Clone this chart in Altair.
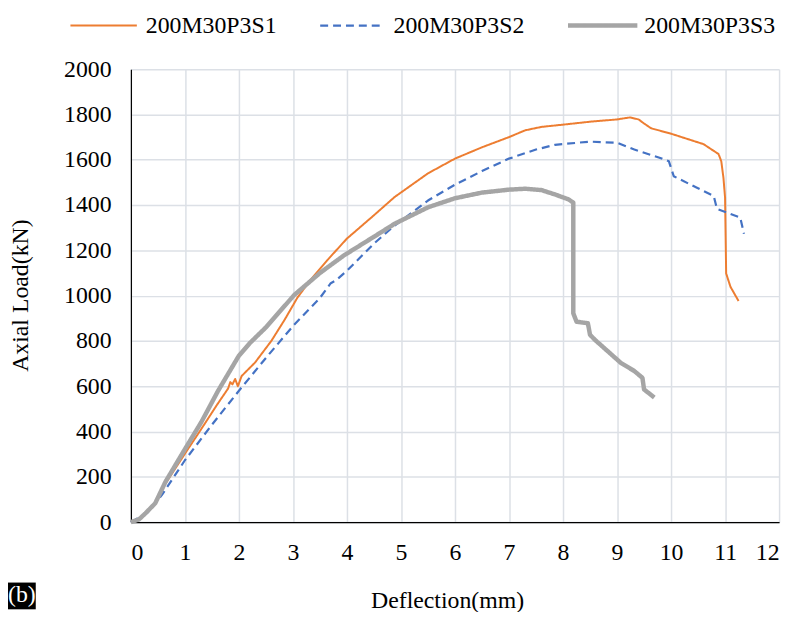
import altair as alt
import pandas as pd

series_names = ["200M30P3S1", "200M30P3S2", "200M30P3S3"]
series_colors = ["#ED7D31", "#4472C4", "#A5A5A5"]

s1_x = [0, 0.15, 0.27, 0.45, 0.64, 1.0, 1.3, 1.6, 1.8, 1.84, 1.88, 1.93, 1.98, 2.05, 2.3, 2.6, 2.85, 3.08,
        3.32, 3.63, 4.0, 4.5, 4.88, 5.5, 6.0, 6.5, 7.0, 7.3, 7.6, 8.0, 8.5, 9.0, 9.24, 9.4, 9.5, 9.63, 10.0,
        10.6, 10.88, 10.93, 10.97, 11.0, 11.02, 11.1, 11.25]
s1_y = [0, 12, 38, 80, 170, 302, 410, 520, 590, 618, 608, 632, 600, 645, 705, 800, 895, 990,
        1068, 1155, 1252, 1355, 1435, 1540, 1605, 1655, 1700, 1730, 1745, 1755, 1768, 1778, 1787, 1778, 1760, 1739, 1715,
        1669, 1625, 1593, 1520, 1432, 1098, 1039, 976]

s2_x = [0, 0.3, 0.575, 1.0, 1.5, 2.0, 2.5, 3.02, 3.5, 3.7, 3.8, 4.0, 4.5, 4.88, 5.5, 6.0, 6.5, 7.0, 7.5,
        7.85, 8.5, 9.0, 9.32, 9.8, 9.96, 10.05, 10.48, 10.79, 10.85, 11.28, 11.35]
s2_y = [0, 40, 120, 273, 430, 580, 725, 871, 990, 1055, 1068, 1110, 1230, 1309, 1420, 1490, 1550, 1605, 1645,
        1666, 1680, 1675, 1645, 1608, 1593, 1527, 1476, 1440, 1383, 1345, 1273]

s3_x = [0, 0.15, 0.27, 0.45, 0.64, 1.0, 1.3, 1.61, 2.0, 2.2, 2.5, 3.02, 3.5, 3.94, 4.5, 4.88, 5.5, 6.0, 6.5,
        7.0, 7.3, 7.6, 7.85, 8.1, 8.19, 8.19, 8.25, 8.46, 8.5, 8.59, 9.07, 9.32, 9.47, 9.5, 9.69]
s3_y = [0, 12, 39, 83, 178, 322, 440, 578, 735, 790, 860, 1002, 1100, 1177, 1260, 1317, 1390, 1430, 1455,
        1468, 1472, 1466, 1447, 1425, 1411, 922, 885, 878, 827, 805, 703, 667, 637, 586, 550]

x_ticks = list(range(0, 13))
y_ticks = list(range(0, 2001, 200))
panel_label = "(b)"

FONT = "Liberation Serif"

series_data = [(s1_x, s1_y), (s2_x, s2_y), (s3_x, s3_y)]
line_widths = [2, 2.2, 4.5]
line_dashes = [[1, 0], [8, 5], [1, 0]]

x_enc = alt.X("x:Q", scale=alt.Scale(domain=[0, 12], nice=False, zero=False),
              axis=alt.Axis(values=x_ticks, title="Deflection(mm)", titleX=319, titleY=79,
                            titleBaseline="middle", titleAlign="center", labelPadding=19, format="d",
                            labelFont=FONT, labelFontSize=24, titleFont=FONT, titleFontSize=24))
y_enc = alt.Y("y:Q", scale=alt.Scale(domain=[0, 2000], nice=False),
              axis=alt.Axis(values=y_ticks, title="Axial Load(kN)", titleX=-111, titleY=228, titleAngle=270,
                            titleBaseline="middle", titleAlign="center", labelPadding=20, format="d",
                            labelFont=FONT, labelFontSize=24, titleFont=FONT, titleFontSize=24))

layers = []
for name, (xs, ys), col, sw, dash in zip(series_names, series_data, series_colors, line_widths, line_dashes):
    d = pd.DataFrame({"x": xs, "y": ys, "idx": list(range(len(xs))), "series": name})
    layers.append(
        alt.Chart(d).mark_line(color=col, strokeWidth=sw, strokeDash=dash, strokeJoin="round",
                               strokeCap="butt").encode(x=x_enc, y=y_enc, order="idx:Q")
    )

# legend (drawn in pixel space above the plot)
legend_line_x = [(-61, 6), (191, 251), (441, 511)]
legend_text_x = [15, 265, 518]
legend_y = -44
for name, col, sw, dash, (lx1, lx2), tx in zip(series_names, series_colors, line_widths, line_dashes,
                                               legend_line_x, legend_text_x):
    one = pd.DataFrame({"t": [name]})
    layers.append(
        alt.Chart(one).mark_rule(color=col, strokeWidth=sw, strokeDash=dash, strokeCap="butt").encode(
            x=alt.value(lx1), x2=alt.value(lx2), y=alt.value(legend_y))
    )
    layers.append(
        alt.Chart(one).mark_text(font=FONT, fontSize=24, color="black", align="left", baseline="middle").encode(
            x=alt.value(tx), y=alt.value(legend_y + 1), text="t:N")
    )

box = alt.Chart(pd.DataFrame({"t": [panel_label]})).mark_rect(color="black").encode(
    x=alt.value(-124), x2=alt.value(-96), y=alt.value(518), y2=alt.value(545)
)
label = alt.Chart(pd.DataFrame({"t": [panel_label]})).mark_text(
    color="white", font=FONT, fontSize=24, baseline="middle", align="center"
).encode(x=alt.value(-110), y=alt.value(531), text="t:N")
layers += [box, label]

chart = alt.layer(*layers).properties(
    width=654, height=457,
    background="white",
    autosize=alt.AutoSizeParams(type="none"),
    padding={"left": 124, "top": 59, "right": 10, "bottom": 88},
).configure_axis(
    ticks=False,
    domainColor="black", domainWidth=1.2,
    gridColor="#DCE0E6", gridWidth=1.5,
    labelFont=FONT, labelFontSize=24, labelColor="black",
    titleFont=FONT, titleFontSize=24, titleFontWeight="normal", titleColor="black",
).configure_view(stroke=None)

chart.save("out.html", embed_options={"renderer": "svg", "actions": False})
